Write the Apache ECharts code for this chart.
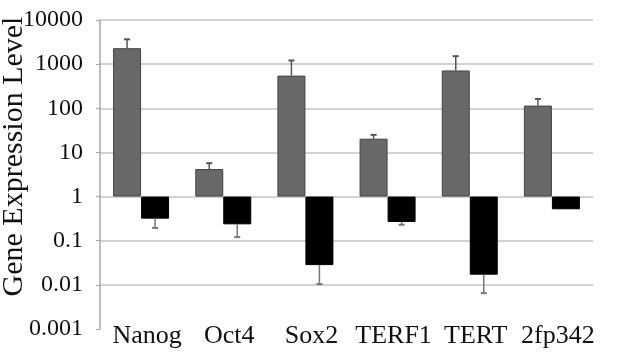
<!DOCTYPE html>
<html>
<head>
<meta charset="utf-8">
<script src="https://cdn.jsdelivr.net/npm/echarts@6/dist/echarts.min.js"></script>
<style>
  html, body { margin: 0; padding: 0; background: #fff; }
  #chart { width: 621px; height: 361px; }
</style>
</head>
<body>
<div id="chart"></div>
<script>
const genes = ['Nanog', 'Oct4', 'Sox2', 'TERF1', 'TERT', '2fp342']

// gray bars (above 1) and their upper error ends
const upLevel = [2300, 4.2, 550, 20.5, 720, 115]
const upErr = [3650, 5.7, 1210, 25, 1515, 163]

// black bars (below 1) and their lower error ends
const downLevel = [0.316, 0.235, 0.028, 0.266, 0.017, 0.515]
const downErr = [0.195, 0.121, 0.0104, 0.23, 0.0065, null]

const serif = "'Liberation Serif', 'Times New Roman', serif"
const chart = echarts.init(document.getElementById('chart'))

// error whisker drawn from the bar end to the error value
let errorBar = (shift, color) => (params, api) => {
  let base = api.value(1)
  let end = api.value(2)
  if (end == null) return
  let p0 = api.coord([api.value(0), base])
  let p1 = api.coord([api.value(0), end])
  let x = p0[0] + shift
  return {
    type: 'group',
    children: [
      { type: 'line', shape: { x1: x, y1: p0[1], x2: x, y2: p1[1] },
        style: { stroke: color, lineWidth: 1.5 } },
      { type: 'line', shape: { x1: x - 3, y1: p1[1], x2: x + 3, y2: p1[1] },
        style: { stroke: color, lineWidth: 2 } }
    ]
  }
}

const gridColor = '#c4c4c4'

chart.setOption({
  backgroundColor: '#fff',
  animation: false,
  grid: { left: 100, right: 28, top: 20, bottom: 32, outerBoundsMode: 'none', containLabel: false },
  xAxis: {
    type: 'category',
    data: genes,
    axisLine: { show: false },
    axisTick: { show: false },
    axisLabel: {
      interval: 0,
      hideOverlap: false,
      margin: -6,
      fontFamily: serif,
      fontSize: 26,
      color: '#111',
      padding: [0, 0, 0, 12]
    }
  },
  yAxis: {
    type: 'log',
    logBase: 10,
    min: 0.001,
    max: 10000,
    name: 'Gene Expression Level',
    nameLocation: 'middle',
    nameGap: 71,
    nameMoveOverlap: false,
    nameTextStyle: {
      fontFamily: serif,
      fontSize: 30,
      color: '#111',
      padding: [0, 0, 0, 36]
    },
    axisLine: { show: true, lineStyle: { color: '#a8a8a8', width: 1.5 } },
    axisTick: { show: true, length: 4, lineStyle: { color: '#a8a8a8' } },
    axisLabel: {
      margin: 17,
      fontFamily: serif,
      fontSize: 24,
      color: '#111',
      formatter: v => String(+v.toPrecision(3))
    },
    splitLine: {
      show: true,
      lineStyle: {
        width: 1.5,
        color: ['rgba(0,0,0,0)', gridColor, gridColor, gridColor, gridColor, gridColor, gridColor, gridColor]
      }
    }
  },
  series: [
    {
      name: 'up',
      type: 'bar',
      data: upLevel,
      barWidth: 28,
      barGap: '0%',
      itemStyle: { color: '#686868', borderColor: '#444', borderWidth: 1 }
    },
    {
      name: 'down',
      type: 'bar',
      data: downLevel,
      barWidth: 28,
      barGap: '0%',
      itemStyle: { color: '#000', borderColor: '#000', borderWidth: 1 }
    },
    {
      type: 'custom',
      renderItem: errorBar(-14, '#555'),
      data: genes.map((g, i) => [i, upLevel[i], upErr[i]]),
      z: 5
    },
    {
      type: 'custom',
      renderItem: errorBar(14, '#777'),
      data: genes.map((g, i) => [i, downLevel[i], downErr[i]]),
      z: 5
    }
  ]
})
</script>
</body>
</html>
